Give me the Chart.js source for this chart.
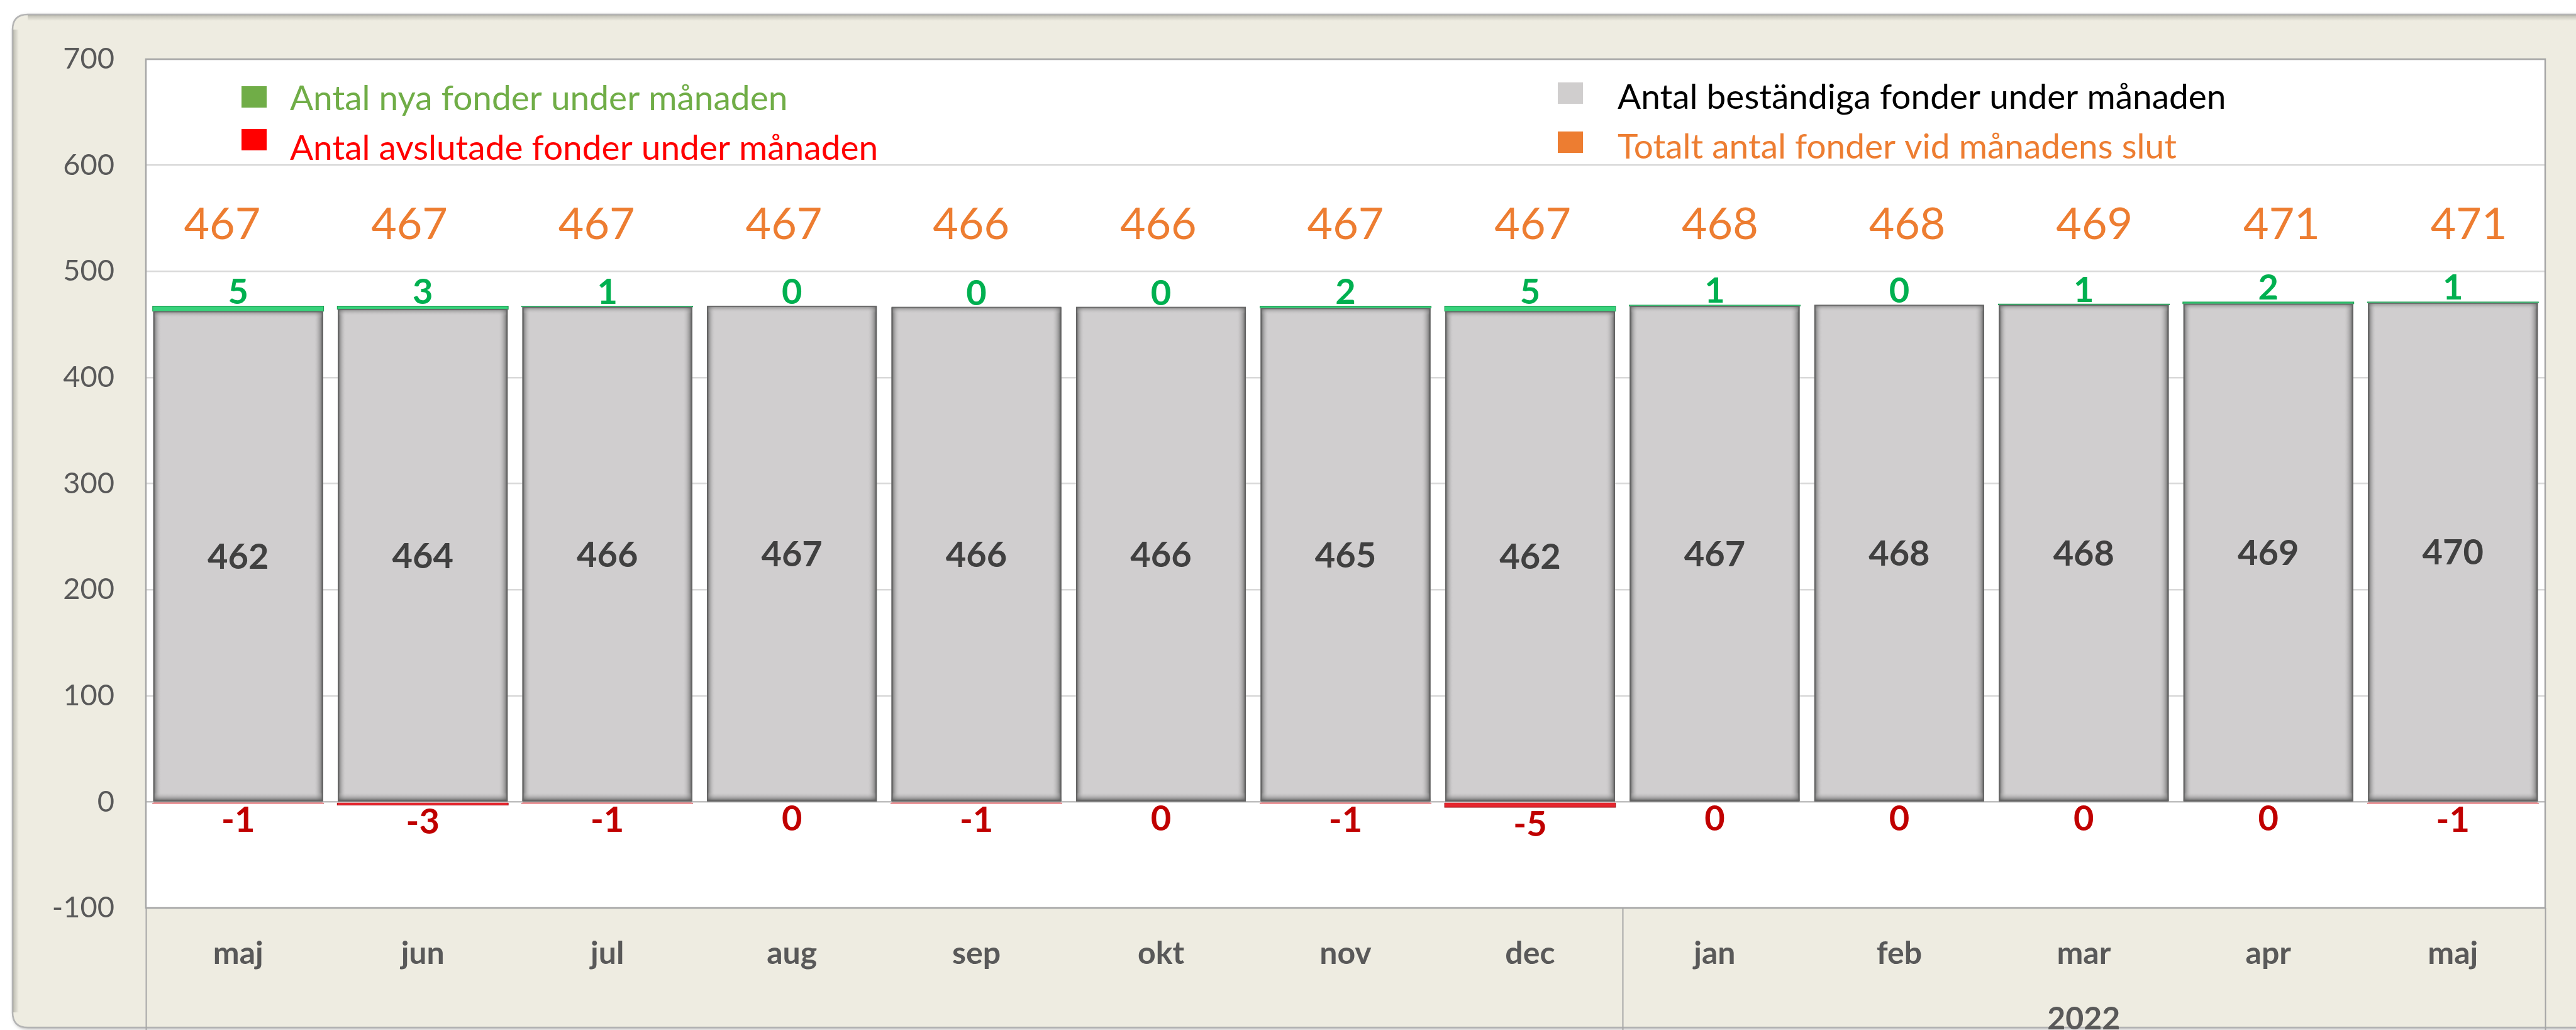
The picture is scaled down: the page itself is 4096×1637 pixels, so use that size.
<!DOCTYPE html>
<html>
<head>
<meta charset="utf-8">
<script src="https://cdn.jsdelivr.net/npm/chart.js@4.4.1/dist/chart.umd.min.js"></script>
<style>
  html, body { margin: 0; padding: 0; background: #ffffff; }
  canvas { display: block; }
</style>
</head>
<body>
<canvas id="c" width="4096" height="1637"></canvas>
<script>
// ---------------- DATA ----------------
const categories = ['maj', 'jun', 'jul', 'aug', 'sep', 'okt', 'nov', 'dec', 'jan', 'feb', 'mar', 'apr', 'maj'];
const groupLabels = ['', '2022'];
const groupStarts = [0, 8];
const persistentFunds = [462, 464, 466, 467, 466, 466, 465, 462, 467, 468, 468, 469, 470];
const newFunds = [5, 3, 1, 0, 0, 0, 2, 5, 1, 0, 1, 2, 1];
const closedFunds = [-1, -3, -1, 0, -1, 0, -1, -5, 0, 0, 0, 0, -1];
const totalFunds = [467, 467, 467, 467, 466, 466, 467, 467, 468, 468, 469, 471, 471];
const seriesNames = [
  'Antal beständiga fonder under månaden',
  'Antal nya fonder under månaden',
  'Antal avslutade fonder under månaden',
  'Totalt antal fonder vid månadens slut'
];
const yMin = -100, yMax = 700, yStep = 100;
const totalLabelLevel = 545;

// ---------------- STYLE ----------------
const FONT = 'Lato';
const frameFill = '#EEECE1';

const framePlugin = {
  id: 'frame',
  beforeDraw(chart) {
    const ctx = chart.ctx;
    const W = chart.width, H = chart.height;
    ctx.save();
    ctx.fillStyle = '#ffffff';
    ctx.fillRect(0, 0, W, H);
    const x0 = 20, y0 = 23, x1 = W + 60, y1 = 1633, r = 24;
    ctx.beginPath();
    ctx.moveTo(x0 + r, y0);
    ctx.lineTo(x1, y0);
    ctx.lineTo(x1, y1);
    ctx.lineTo(x0 + r, y1);
    ctx.quadraticCurveTo(x0, y1, x0, y1 - r);
    ctx.lineTo(x0, y0 + r);
    ctx.quadraticCurveTo(x0, y0, x0 + r, y0);
    ctx.closePath();
    ctx.shadowColor = 'rgba(0,0,0,0.35)';
    ctx.shadowBlur = 6;
    ctx.shadowOffsetX = 2;
    ctx.shadowOffsetY = 2;
    ctx.fillStyle = frameFill;
    ctx.fill();
    ctx.shadowColor = 'transparent';
    ctx.lineWidth = 2.5;
    ctx.strokeStyle = '#B4B4B4';
    ctx.stroke();
    let g = ctx.createLinearGradient(x0, 0, x0 + 10, 0);
    g.addColorStop(0, 'rgba(120,120,110,0.45)');
    g.addColorStop(1, 'rgba(120,120,110,0)');
    ctx.fillStyle = g;
    ctx.fillRect(x0 + 1, y0 + r, 10, y1 - y0 - 2 * r);
    g = ctx.createLinearGradient(0, y0, 0, y0 + 10);
    g.addColorStop(0, 'rgba(120,120,110,0.45)');
    g.addColorStop(1, 'rgba(120,120,110,0)');
    ctx.fillStyle = g;
    ctx.fillRect(x0 + r, y0 + 1, x1 - x0 - r, 10);

    const a = chart.chartArea;
    ctx.fillStyle = '#ffffff';
    ctx.fillRect(a.left, a.top, a.right - a.left, a.bottom - a.top);
    ctx.restore();
  },
  afterDraw(chart) {
    const ctx = chart.ctx;
    const a = chart.chartArea;
    const xs = chart.scales.x;
    ctx.save();
    ctx.strokeStyle = '#A6A6A6';
    ctx.lineWidth = 2.5;
    ctx.strokeRect(a.left, a.top, a.right - a.left, a.bottom - a.top);
    ctx.lineWidth = 2;
    const bottom = chart.height;
    const seps = [a.left, a.right];
    for (let k = 1; k < groupStarts.length; k++) {
      const i = groupStarts[k];
      seps.push((xs.getPixelForValue(i - 1) + xs.getPixelForValue(i)) / 2);
    }
    seps.forEach(px => {
      ctx.beginPath();
      ctx.moveTo(Math.round(px) + 0.5, a.bottom);
      ctx.lineTo(Math.round(px) + 0.5, bottom);
      ctx.stroke();
    });
    ctx.fillStyle = '#595959';
    ctx.font = 'bold 50px ' + FONT;
    ctx.textAlign = 'center';
    ctx.textBaseline = 'middle';
    for (let k = 0; k < groupStarts.length; k++) {
      if (!groupLabels[k]) continue;
      const s = groupStarts[k];
      const e = (k + 1 < groupStarts.length ? groupStarts[k + 1] : categories.length) - 1;
      const cx = (xs.getPixelForValue(s) + xs.getPixelForValue(e)) / 2;
      ctx.fillText(groupLabels[k], cx, 1620);
    }
    ctx.restore();
  }
};

const shadePlugin = {
  id: 'shade',
  afterDatasetsDraw(chart) {
    const ctx = chart.ctx;
    const meta = chart.getDatasetMeta(0);
    ctx.save();
    meta.data.forEach(el => {
      const p = el.getProps(['x', 'y', 'base', 'width'], true);
      const l = p.x - p.width / 2, r = p.x + p.width / 2, t = p.y, b = p.base;
      let g = ctx.createLinearGradient(l, 0, l + 13, 0);
      g.addColorStop(0, 'rgba(80,80,80,0.95)');
      g.addColorStop(0.3, 'rgba(120,120,120,0.6)');
      g.addColorStop(1, 'rgba(208,206,207,0)');
      ctx.fillStyle = g; ctx.fillRect(l, t, 13, b - t);
      g = ctx.createLinearGradient(r, 0, r - 15, 0);
      g.addColorStop(0, 'rgba(80,80,80,0.95)');
      g.addColorStop(0.3, 'rgba(120,120,120,0.6)');
      g.addColorStop(1, 'rgba(208,206,207,0)');
      ctx.fillStyle = g; ctx.fillRect(r - 15, t, 15, b - t);
      g = ctx.createLinearGradient(0, b, 0, b - 14);
      g.addColorStop(0, 'rgba(80,80,80,0.95)');
      g.addColorStop(0.3, 'rgba(120,120,120,0.6)');
      g.addColorStop(1, 'rgba(208,206,207,0)');
      ctx.fillStyle = g; ctx.fillRect(l, b - 14, r - l, 14);
      g = ctx.createLinearGradient(0, t, 0, t + 10);
      g.addColorStop(0, 'rgba(100,100,100,0.6)');
      g.addColorStop(1, 'rgba(208,206,207,0)');
      ctx.fillStyle = g; ctx.fillRect(l, t, r - l, 10);
      ctx.strokeStyle = 'rgba(100,100,100,0.9)';
      ctx.lineWidth = 2;
      ctx.strokeRect(l + 1, t, r - l - 2, b - t);
    });
    ctx.restore();
  }
};

const labelPlugin = {
  id: 'valueLabels',
  afterDatasetsDraw(chart) {
    const ctx = chart.ctx;
    const a = chart.chartArea;
    const ys = chart.scales.y;
    ctx.save();
    ctx.textAlign = 'center';
    ctx.textBaseline = 'alphabetic';
    ctx.font = 'bold 56px ' + FONT;
    chart.getDatasetMeta(0).data.forEach((el, i) => {
      const p = el.getProps(['x', 'y', 'base'], true);
      ctx.fillStyle = '#404040';
      ctx.fillText(String(persistentFunds[i]), p.x, (p.y + p.base) / 2 + 20);
    });
    chart.getDatasetMeta(1).data.forEach((el, i) => {
      const p = el.getProps(['x', 'y'], true);
      ctx.fillStyle = '#00B050';
      ctx.fillText(String(newFunds[i]), p.x, p.y - 4);
    });
    chart.getDatasetMeta(2).data.forEach((el, i) => {
      const p = el.getProps(['x'], true);
      const yEnd = ys.getPixelForValue(closedFunds[i]);
      ctx.fillStyle = '#C00000';
      ctx.fillText(String(closedFunds[i]), p.x, yEnd + 6 + 40);
    });
    const cx = (a.left + a.right) / 2, k = 1.0144;
    const ty = ys.getPixelForValue(totalLabelLevel);
    ctx.font = '70px ' + FONT;
    ctx.fillStyle = '#ED7D31';
    chart.getDatasetMeta(3).data.forEach((el, i) => {
      const x = cx + (el.x - cx) * k;
      ctx.fillText(String(totalFunds[i]), x, ty + 25);
    });
    ctx.restore();
  }
};

const legendPlugin = {
  id: 'customLegend',
  afterDraw(chart) {
    const ctx = chart.ctx;
    const items = [
      { ds: 1, mx: 384, tx: 461, my: 154, ty: 155, marker: '#70AD47', text: '#70AD47' },
      { ds: 2, mx: 384, tx: 461, my: 222, ty: 234, marker: '#FF0000', text: '#FF0000' },
      { ds: 0, mx: 2477, tx: 2572, my: 148, ty: 153, marker: '#D0CECE', text: '#000000' },
      { ds: 3, mx: 2477, tx: 2572, my: 226, ty: 232, marker: '#ED7D31', text: '#ED7D31' }
    ];
    ctx.save();
    ctx.textAlign = 'left';
    ctx.textBaseline = 'alphabetic';
    ctx.font = '55px ' + FONT;
    items.forEach(it => {
      ctx.fillStyle = it.marker;
      ctx.fillRect(it.mx, it.my - 17, 40, 34);
      ctx.fillStyle = it.text;
      ctx.fillText(chart.data.datasets[it.ds].label, it.tx, it.ty + 20);
    });
    ctx.restore();
  }
};

function build() {
  new Chart(document.getElementById('c'), {
    type: 'bar',
    data: {
      labels: categories,
      datasets: [
        {
          label: seriesNames[0], data: persistentFunds, stack: 's',
          backgroundColor: '#D0CECF', borderWidth: 0,
          barPercentage: 0.92, categoryPercentage: 1.0
        },
        {
          label: seriesNames[1], data: newFunds, stack: 's',
          backgroundColor: '#38D27B', borderColor: '#1E9A50', borderWidth: 1.2,
          inflateAmount: 0.9,
          barPercentage: 0.925, categoryPercentage: 1.0
        },
        {
          label: seriesNames[2], data: closedFunds, stack: 's',
          backgroundColor: '#E5262E', borderColor: '#A0141A', borderWidth: 1.2,
          inflateAmount: 0.9,
          barPercentage: 0.925, categoryPercentage: 1.0
        },
        {
          type: 'line', label: seriesNames[3], data: totalFunds, stack: 'total',
          showLine: false, pointRadius: 0, borderColor: '#ED7D31', backgroundColor: '#ED7D31'
        }
      ]
    },
    options: {
      responsive: false,
      animation: false,
      devicePixelRatio: 1,
      layout: { padding: { top: 94, right: 49, left: 0, bottom: 0 } },
      plugins: { legend: { display: false }, tooltip: { enabled: false } },
      scales: {
        x: {
          stacked: true,
          grid: { display: false, drawTicks: false },
          border: { display: false },
          ticks: {
            color: '#595959', font: { family: FONT, size: 50, weight: 'bold' },
            padding: 43, maxRotation: 0, autoSkip: false
          },
          afterFit(s) { s.height = 194; }
        },
        y: {
          stacked: true,
          min: yMin, max: yMax,
          ticks: { stepSize: yStep, color: '#595959', font: { family: FONT, size: 47 }, padding: 50 },
          grid: {
            color: c => (c.tick && c.tick.value === 0 ? '#BFBFBF' : '#D9D9D9'),
            lineWidth: 2.5, drawTicks: false
          },
          border: { display: false },
          afterFit(s) { s.width = 232; }
        }
      }
    },
    plugins: [framePlugin, shadePlugin, labelPlugin, legendPlugin]
  });
}

if (document.fonts && document.fonts.load) {
  Promise.all([
    document.fonts.load('49px Lato'),
    document.fonts.load('bold 50px Lato')
  ]).then(build, build);
} else {
  build();
}
</script>
</body>
</html>
